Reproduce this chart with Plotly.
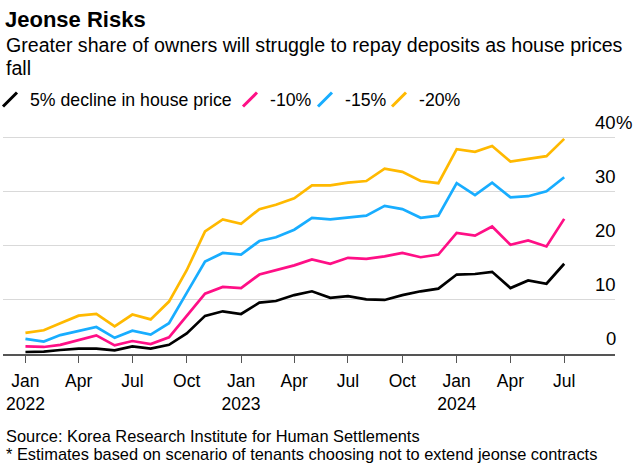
import pandas as pd
import plotly.graph_objects as go

MONTHS = pd.date_range("2022-01-01", "2024-07-01", freq="MS")

SERIES_NAMES = ["5% decline in house price", "-10%", "-15%", "-20%"]
SERIES_COLORS = ["#000000", "#ff0f86", "#18adff", "#ffb900"]

DECLINE_5 = [0.37, 0.43, 0.74, 1.0, 1.0, 0.67, 1.4, 1.0, 1.7, 3.8, 7.05, 7.9, 7.4,
             9.5, 9.8, 10.9, 11.6, 10.4, 10.7, 10.1, 10.0, 10.9, 11.6, 12.1, 14.7,
             14.8, 15.2, 12.2, 13.6, 13.0, 16.7]
DECLINE_10 = [1.4, 1.3, 1.7, 2.65, 3.45, 1.6, 2.4, 1.85, 3.1, 7.05, 11.15, 12.4, 12.2,
              14.7, 15.5, 16.4, 17.5, 16.7, 17.8, 17.6, 18.05, 18.7, 17.9, 18.4, 22.4,
              21.9, 23.6, 20.2, 21.0, 19.9, 25.0]
DECLINE_15 = [2.8, 2.3, 3.5, 4.2, 5.0, 3.0, 4.3, 3.6, 5.7, 11.3, 17.1, 18.7, 18.4,
              20.9, 21.6, 23.0, 25.2, 24.9, 25.2, 25.6, 27.4, 26.8, 25.2, 25.6, 31.6,
              29.4, 31.7, 29.0, 29.2, 30.1, 32.7]
DECLINE_20 = [3.9, 4.4, 5.7, 7.1, 7.4, 5.1, 7.3, 6.4, 9.7, 15.5, 22.7, 24.9, 24.1,
              26.8, 27.6, 28.8, 31.2, 31.2, 31.7, 32.0, 34.3, 33.7, 32.0, 31.6, 37.9,
              37.4, 38.5, 35.6, 36.1, 36.6, 39.8]
SERIES_VALUES = [DECLINE_5, DECLINE_10, DECLINE_15, DECLINE_20]

X_TICK_VALS = ["2022-01-01", "2022-04-01", "2022-07-01", "2022-10-01",
               "2023-01-01", "2023-04-01", "2023-07-01", "2023-10-01",
               "2024-01-01", "2024-04-01", "2024-07-01"]
X_TICK_TEXT = ["Jan<br>2022", "Apr", "Jul", "Oct", "Jan<br>2023", "Apr", "Jul", "Oct",
               "Jan<br>2024", "Apr", "Jul"]
Y_TICK_VALS = [0, 10, 20, 30, 40]
Y_TICK_TEXT = ["0", "10", "20", "30", "40"]

TITLE = "Jeonse Risks"
SUBTITLE_LINES = ["Greater share of owners will struggle to repay deposits as house prices",
                  "fall"]
SOURCE = "Source: Korea Research Institute for Human Settlements"
NOTE = "* Estimates based on scenario of tenants choosing not to extend jeonse contracts"

FONT = "Liberation Sans, Arial, sans-serif"
W, H = 640, 475
ML, MR, MT, MB = 3, 25, 127, 121
PW, PH = W - ML - MR, H - MT - MB


def px_to_paper_x(px):
    return (px - ML) / PW


def px_to_paper_y(py):
    return (H - MB - py) / PH


fig = go.Figure()

# data lines (draw yellow first, black last)
for name, color, vals in reversed(list(zip(SERIES_NAMES, SERIES_COLORS, SERIES_VALUES))):
    fig.add_trace(go.Scatter(x=MONTHS, y=vals, mode="lines", name=name,
                             line=dict(color=color, width=2.7), showlegend=False,
                             hoverinfo="skip"))

# legend entries, each in its own legend so spacing can match
legend_ids = ["legend", "legend2", "legend3", "legend4"]
legend_px = [-10, 230, 305, 379]
for lid, name, color in zip(legend_ids, SERIES_NAMES, SERIES_COLORS):
    fig.add_trace(go.Scatter(x=[None], y=[None], mode="markers", name=name,
                             marker=dict(symbol="line-ne", size=14, color=color,
                                         line=dict(color=color, width=3)),
                             showlegend=True, legend=lid))

legend_layout = {}
for lid, lx in zip(legend_ids, legend_px):
    legend_layout[lid] = dict(
        x=px_to_paper_x(lx), xanchor="left", y=px_to_paper_y(100), yanchor="middle",
        orientation="h", font=dict(family=FONT, size=17.7, color="#000000"),
        bgcolor="rgba(0,0,0,0)", borderwidth=0, itemclick=False,
    )

annotations = []
for line, cy in zip(SUBTITLE_LINES, [45, 68]):
    annotations.append(dict(text=line, xref="paper", yref="paper", x=px_to_paper_x(4),
                            y=px_to_paper_y(cy), xanchor="left", yanchor="middle",
                            align="left", showarrow=False,
                            font=dict(family=FONT, size=19.6, color="#000000")))
for line, cy in zip([SOURCE, NOTE], [436, 454]):
    annotations.append(dict(text=line, xref="paper", yref="paper", x=px_to_paper_x(4),
                            y=px_to_paper_y(cy), xanchor="left", yanchor="middle",
                            align="left", showarrow=False,
                            font=dict(family=FONT, size=16.4, color="#000000")))
for v, t in zip(Y_TICK_VALS, Y_TICK_TEXT):
    annotations.append(dict(text=t, xref="paper", yref="y", x=1, y=v,
                            xanchor="right", yanchor="bottom", yshift=3, xshift=3,
                            showarrow=False,
                            font=dict(family=FONT, size=18.5, color="#000000")))
annotations.append(dict(text="%", xref="paper", yref="y", x=1, y=Y_TICK_VALS[-1],
                        xanchor="left", yanchor="bottom", yshift=3, xshift=-1,
                        showarrow=False,
                        font=dict(family=FONT, size=18.5, color="#000000")))

fig.update_layout(
    width=W, height=H,
    margin=dict(l=ML, r=MR, t=MT, b=MB, autoexpand=False),
    paper_bgcolor="#ffffff", plot_bgcolor="#ffffff",
    title=dict(text="<b>" + TITLE + "</b>", xref="container", yref="container",
               x=5 / W, xanchor="left", y=1 - 19.5 / H, yanchor="middle",
               font=dict(family=FONT, size=22, color="#000000")),
    annotations=annotations,
    **legend_layout,
)

fig.update_xaxes(
    type="date", range=["2021-11-24", "2024-09-25"],
    tickvals=X_TICK_VALS, ticktext=X_TICK_TEXT,
    showgrid=False, zeroline=False,
    showline=True, linecolor="#555555", linewidth=1.5,
    ticks="outside", ticklen=7, tickwidth=1.3, tickcolor="#555555",
    ticklabelstandoff=3,
    tickfont=dict(family=FONT, size=17.5, color="#000000"),
)
fig.update_yaxes(
    range=[0, 42], tickvals=Y_TICK_VALS[1:], showticklabels=False,
    showgrid=True, gridcolor="#d9d9d9", gridwidth=1, zeroline=False,
    showline=False, ticks="",
)

fig.write_html("out.html", config={"displayModeBar": False},
               post_script="document.body.style.margin='0';")
